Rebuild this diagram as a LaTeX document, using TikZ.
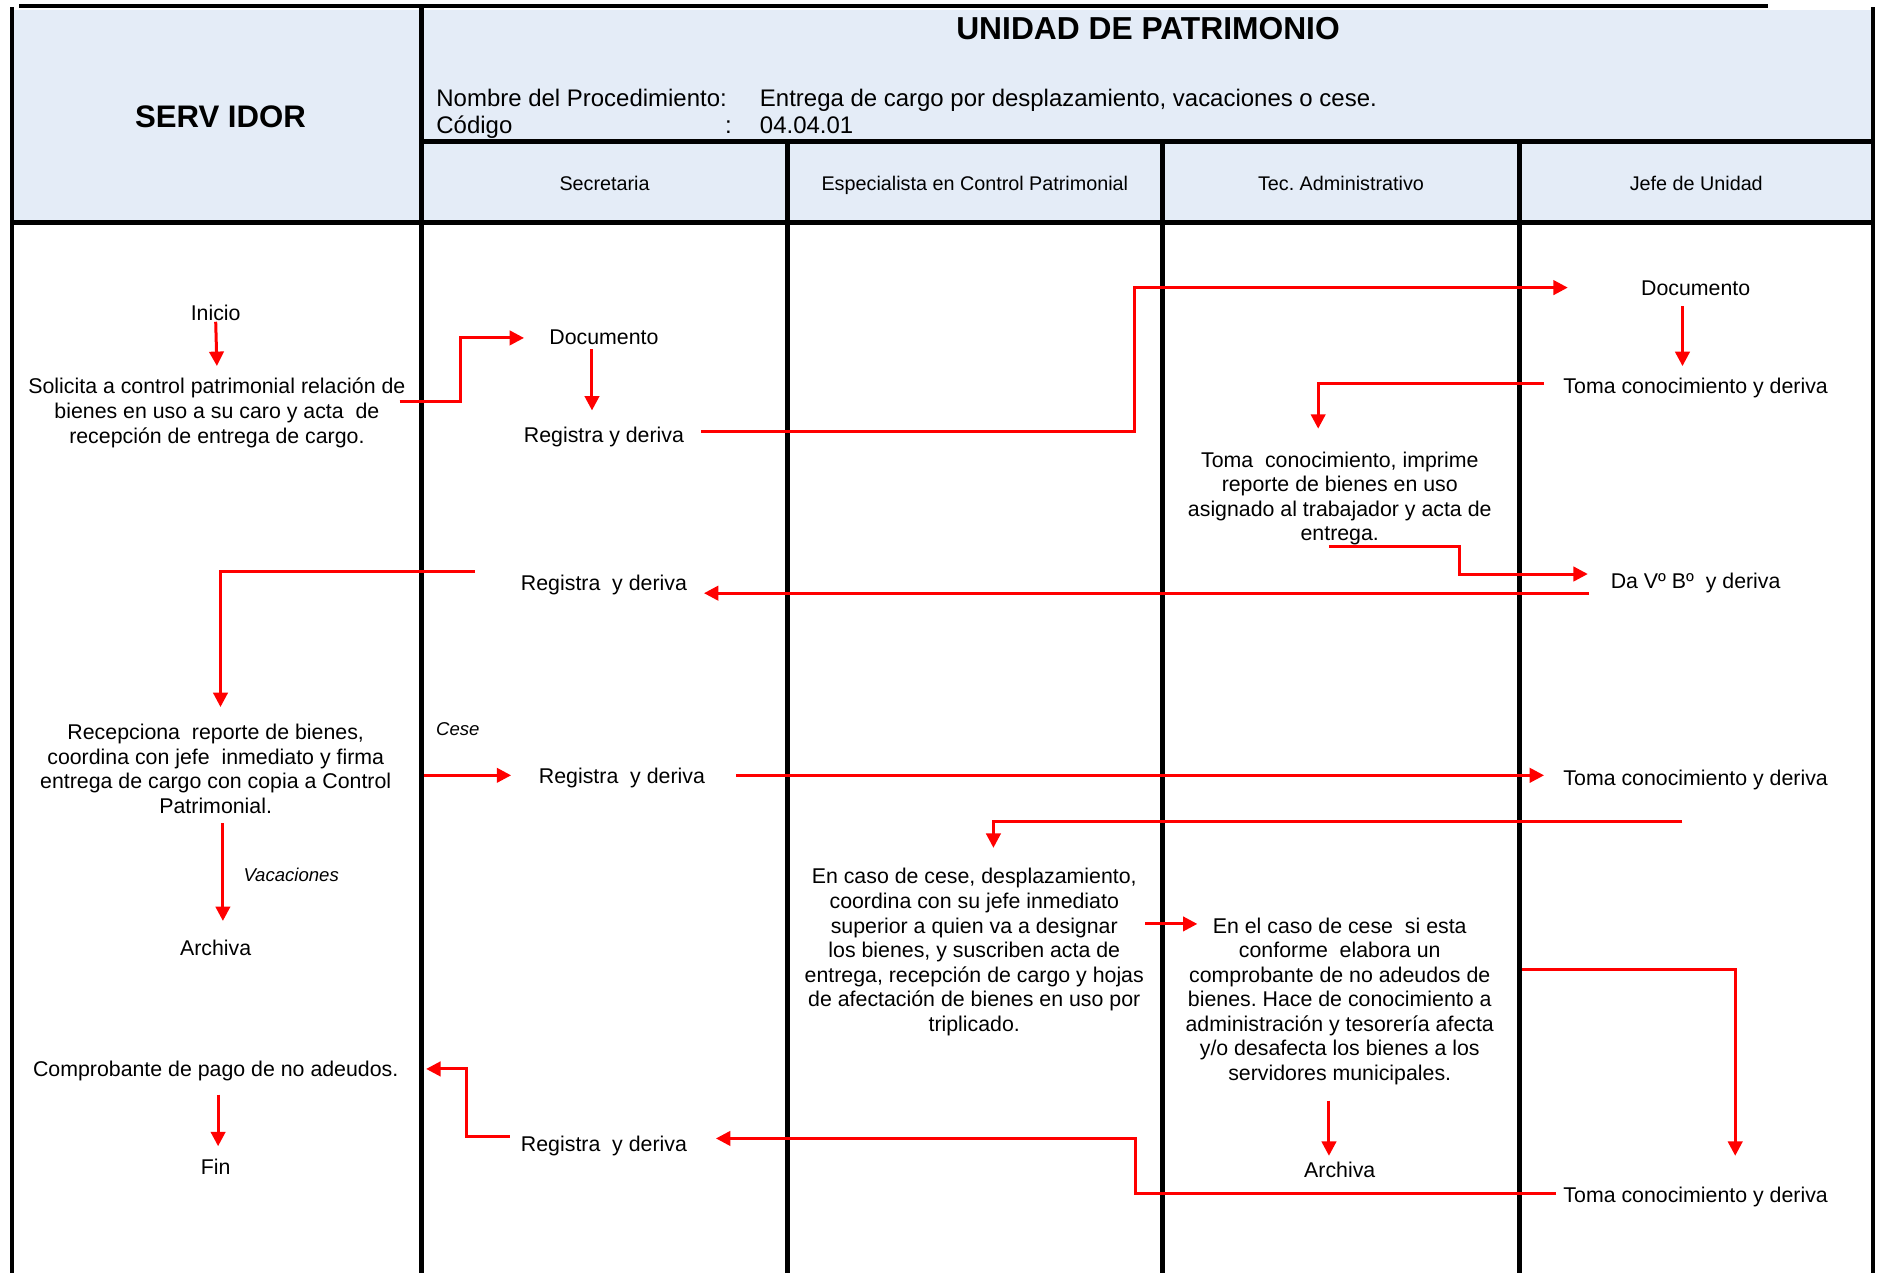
\documentclass[tikz,border=0pt]{standalone}
\usepackage{fontspec}
\setmainfont{Liberation Sans}
\usetikzlibrary{arrows.meta,calc}
\frenchspacing

\definecolor{hdrblue}{RGB}{228,236,247}
\definecolor{flowred}{RGB}{255,0,0}

\tikzset{
  txt/.style={font=\fontsize{17.8}{20.5}\selectfont, inner sep=0pt, text height=14.8pt, text depth=1.8pt},
  para/.style={font=\fontsize{17.8}{20.5}\selectfont, inner sep=0pt, align=center},
  note/.style={font=\fontsize{15.5}{18}\selectfont\itshape, inner sep=0pt, text height=11pt, text depth=3.3pt},
  lanehead/.style={font=\fontsize{16.5}{19}\selectfont, inner sep=0pt, anchor=base},
  headtxt/.style={font=\fontsize{20}{23}\selectfont, inner sep=0pt, anchor=base west},
  flow/.style={draw=flowred, line width=2.5pt, -{Triangle[length=12pt,width=12pt]}},
  rule/.style={line width=4pt, black, line cap=rect},
}

\begin{document}
\begin{tikzpicture}[x=1pt, y=-1pt]
\useasboundingbox (0,0) rectangle (1568,1062);

% header backgrounds
\fill[hdrblue] (10,8) rectangle (1563,186);

% header texts
\node[font=\fontsize{26.5}{30}\selectfont\bfseries, inner sep=0pt, anchor=base] (unit) at (958,33) {UNIDAD DE PATRIMONIO};
\node[font=\fontsize{26}{30}\selectfont\bfseries, inner sep=0pt, anchor=base] (serv) at (184,106) {SERV IDOR};
\node[headtxt] (procl) at (364,88.5) {Nombre del Procedimiento:};
\node[headtxt] (procv) at (634,88.5) {Entrega de cargo por desplazamiento, vacaciones o cese.};
\node[headtxt] (codl) at (364,111.5) {Código};
\node[headtxt] (codc) at (605,111.5) {:};
\node[headtxt] (codv) at (634,111.5) {04.04.01};

\node[lanehead] (l1) at (504.5,159) {Secretaria};
\node[lanehead] (l2) at (813.5,159) {Especialista en Control Patrimonial};
\node[lanehead] (l3) at (1119,159) {Tec. Administrativo};
\node[lanehead] (l4) at (1415.5,159) {Jefe de Unidad};

% grid lines
\draw[rule] (18,5) -- (1473,5);
\draw[rule] (10,8) -- (10,1062);
\draw[rule] (352,8) -- (352,1062);
\draw[rule] (657,118) -- (657,1062);
\draw[rule] (970,118) -- (970,1062);
\draw[rule] (1268,118) -- (1268,1062);
\draw[rule] (1563,8) -- (1563,1062);
\draw[rule] (352,118) -- (1563,118);
\draw[rule] (10,186) -- (1563,186);

% process steps
\node[txt] (inicio) at (180,261) {Inicio};
\node[para] (solicita) at (181,344.5) {Solicita a control patrimonial relación de\\bienes en uso a su caro y acta\ \ de\\recepción de entrega de cargo.};
\node[txt] (doc1) at (504,281) {Documento};
\node[txt] (reg1) at (504,363) {Registra y deriva};
\node[txt] (doc2) at (1415,240) {Documento};
\node[txt] (toma1) at (1415,322) {Toma conocimiento y deriva};
\node[para] (imprime) at (1118,416) {Toma\ \ conocimiento, imprime\\reporte de bienes en uso\\asignado al trabajador y acta de\\entrega.};
\node[txt] (vobo) at (1415,485) {Da Vº Bº\ \ y deriva};
\node[txt] (reg2) at (504,486) {Registra\ \ y deriva};
\node[para] (recep) at (180,641.5) {Recepciona\ \ reporte de bienes,\\coordina con jefe\ \ inmediato y firma\\entrega de cargo con copia a Control\\Patrimonial.};
\node[note] (cese) at (382,610) {Cese};
\node[txt] (reg3) at (519,647) {Registra\ \ y deriva};
\node[txt] (toma2) at (1415,649) {Toma conocimiento y deriva};
\node[para] (encaso) at (813,794.5) {En caso de cese, desplazamiento,\\coordina con su jefe inmediato\\superior a quien va a designar\\los bienes, y suscriben acta de\\entrega, recepción de cargo y hojas\\de afectación de bienes en uso por\\triplicado.};
\node[note] (vac) at (243,732) {Vacaciones};
\node[txt] (archiva1) at (180,791) {Archiva};
\node[para] (elcaso) at (1118,835.5) {En el caso de cese\ \ si esta\\conforme\ \ elabora un\\comprobante de no adeudos de\\bienes. Hace de conocimiento a\\administración y tesorería afecta\\y/o desafecta los bienes a los\\servidores municipales.};
\node[txt] (archiva2) at (1118,976) {Archiva};
\node[txt] (toma3) at (1415,997) {Toma conocimiento y deriva};
\node[txt] (reg4) at (504,954) {Registra\ \ y deriva};
\node[txt] (comprob) at (180,892) {Comprobante de pago de no adeudos.};
\node[txt] (fin) at (180,974) {Fin};

% connectors
\draw[flow] ($(inicio.south)+(0,-1)$) -- ($(solicita.north)+(0,-10)$);
\draw[flow] ($(solicita.east)+(-5,-9.5)$) -- ++(51,0) |- ($(doc1.west)+(-21,1)$);
\draw[flow] ($(doc1.south)+(-10,2)$) -- ($(reg1.north)+(-10,-12)$);
\draw[flow] ($(reg1.east)+(14,-3)$) -- ++(362,0) |- ($(doc2.west)+(-61,0)$);
\draw[flow] ($(doc2.south)+(-11,7)$) -- ($(toma1.north)+(-11,-8)$);
\draw[flow] ($(toma1.west)+(-16,-2)$) -| ($(imprime.north)+(-18,-19)$);
\draw[flow] ($(imprime.south)+(-9,1)$) -- ++(109,0) |- ($(vobo.west)+(-19,-6)$);
\draw[flow] ($(vobo.west)+(-18,10)$) -- ($(reg2.east)+(14,9)$);
\draw[flow] ($(reg2.west)+(-38,-9)$) -| ($(recep.north)+(4,-14)$);
\draw[flow] ($(recep.east)+(27,5.5)$) -- ($(reg3.west)+(-23,0)$);
\draw[flow] ($(reg3.east)+(26,0)$) -- ($(toma2.west)+(-16,-2)$);
\draw[flow] ($(toma2.south)+(-11,28)$) -| ($(encaso.north)+(16,-17)$);
\draw[flow] ($(recep.south)+(6,8)$) -- ($(archiva1.north)+(6,-14)$);
\draw[flow] ($(encaso.east)+(1,-23.5)$) -- ($(elcaso.west)+(10,-64.5)$);
\draw[flow] ($(elcaso.east)+(23,-26.5)$) -| ($(toma3.north)+(33,-24)$);
\draw[flow] ($(elcaso.south)+(-9,13)$) -- ($(archiva2.north)+(-9,-3)$);
\draw[flow] ($(toma3.west)+(-6,-1)$) -- ++(-351,0) |- ($(reg4.east)+(24,-4)$);
\draw[flow] ($(reg4.west)+(-9,-6)$) -- ++(-36,0) |- ($(comprob.east)+(23,0)$);
\draw[flow] ($(comprob.south)+(2,13)$) -- ($(fin.north)+(2,-9)$);
\end{tikzpicture}
\end{document}
